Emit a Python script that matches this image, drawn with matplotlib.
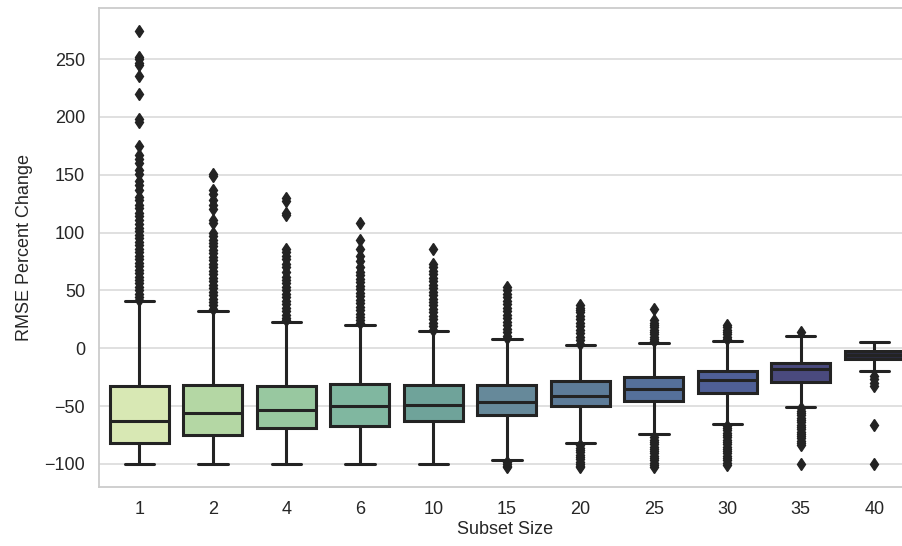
import matplotlib
matplotlib.use("Agg")
import matplotlib.pyplot as plt
import seaborn as sns

sns.set_style("whitegrid")
plt.rcParams["font.family"] = ["Liberation Sans", "DejaVu Sans"]

# subset sizes on the x axis
subset_sizes = ["1", "2", "4", "6", "10", "15", "20", "25", "30", "35", "40"]

# box statistics (RMSE percent change)
medians = [-62.7, -56, -53, -50, -49.4, -46.3, -41, -35.3, -27.3, -18, -6]
q1 = [-82, -74.7, -69, -67, -63, -57.8, -50, -45.2, -38.8, -29.3, -9.5]
q3 = [-33, -31.6, -33, -30.5, -31.6, -31.6, -28.7, -25, -19.6, -12.4, -2]
whis_lo = [-100, -100, -100, -100, -100, -96.3, -82, -74.5, -65.5, -50.5, -19.5]
whis_hi = [40.8, 32, 22.7, 20.5, 14.8, 8.3, 2.6, 4.3, 6.3, 10.5, 5.5]

fliers = [
    [274, 252, 250, 247, 245, 235, 220, 198, 196, 175, 167, 164, 160, 154,
     151, 145, 141, 137, 131, 128, 124, 121, 117, 114, 111, 107, 104, 101,
     98, 95, 92, 89, 86, 83, 80, 77, 74, 71, 68, 65, 62, 59, 56, 53, 50,
     47, 44, 42],
    [151, 149, 137, 133, 128, 124, 120, 111, 108, 100, 97, 94, 91, 88, 85,
     82, 79, 76, 73, 70, 67, 64, 61, 58, 55, 52, 49, 46, 43, 40, 37, 34],
    [130, 127, 117, 115, 86, 83, 80, 77, 73, 70, 66, 62, 59, 56, 53, 50,
     47, 44, 41, 38, 35, 32, 29, 26, 24],
    [108, 94, 86, 80, 75, 70, 66, 63, 60, 57, 54, 51, 48, 45, 42, 39, 36,
     33, 30, 27, 24, 22],
    [86, 73, 70, 67, 64, 61, 58, 55, 52, 49, 46, 43, 40, 37, 34, 31, 28,
     25, 22, 19, 16],
    [53, 50, 47, 44, 41, 38, 35, 32, 29, 26, 23, 20, 17, 14, 11, 9,
     -98, -100, -102, -103],
    [37, 35, 33, 31, 28, 25, 22, 19, 16, 13, 10, 7, 4,
     -84, -86, -88, -90, -92, -94, -96, -98, -100, -102, -103],
    [34, 24, 22, 20, 18, 16, 14, 12, 10, 8, 6,
     -77, -79, -81, -83, -85, -87, -89, -91, -93, -95, -97, -99, -101, -103],
    [20, 18, 16, 14, 12, 10, 8,
     -67, -69, -71, -73, -75, -77, -79, -81, -83, -85, -87, -89, -91, -93,
     -95, -97, -99, -101],
    [14, -52, -54, -56, -58, -60, -62, -64, -66, -68, -70, -72, -74, -76,
     -78, -80, -82, -84, -100.5],
    [-24, -27, -30, -33, -66, -100.5],
]

box_colors = ["#d8e8b4", "#b4d7a4", "#98c8a0", "#80b7a0", "#6fa39a",
              "#66899a", "#5d7c99", "#55709a", "#4f5f96", "#4a4a7e", "#2c2d40"]

stats = []
for i in range(len(subset_sizes)):
    stats.append({"med": medians[i], "q1": q1[i], "q3": q3[i],
                  "whislo": whis_lo[i], "whishi": whis_hi[i],
                  "fliers": fliers[i], "label": subset_sizes[i]})

fig = plt.figure(figsize=(9.03, 5.46), dpi=100)
ax = fig.add_axes([0.1096, 0.108, 0.8993, 0.877])

line_col = "#232323"
bp = ax.bxp(stats, positions=range(len(stats)), widths=0.8, patch_artist=True,
            boxprops=dict(linewidth=2.2, edgecolor=line_col),
            whiskerprops=dict(linewidth=2.2, color=line_col),
            capprops=dict(linewidth=2.2, color=line_col),
            medianprops=dict(linewidth=2.2, color=line_col),
            flierprops=dict(marker="d", markersize=6.5, markerfacecolor=line_col,
                            markeredgecolor=line_col, linestyle="none"))
for patch, c in zip(bp["boxes"], box_colors):
    patch.set_facecolor(c)

ax.set_xlim(-0.55, 10.5)
ax.set_ylim(-120, 294)
ax.set_yticks([-100, -50, 0, 50, 100, 150, 200, 250])
ax.xaxis.grid(False)
ax.yaxis.grid(True, color="#dddddd", linewidth=1.3)
for s in ax.spines.values():
    s.set_color("#cccccc")
    s.set_linewidth(1.3)

ax.tick_params(axis="both", labelsize=13, colors="#262626", length=0, pad=10)
ax.set_xlabel("Subset Size", fontsize=13, color="#262626", labelpad=2)
ax.set_ylabel("RMSE Percent Change", fontsize=13, color="#262626", labelpad=8)

fig.savefig("out.png", dpi=100)
